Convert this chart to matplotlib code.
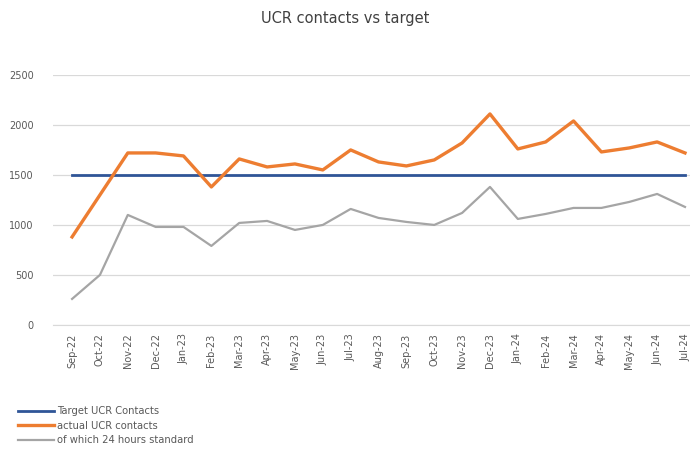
import matplotlib.pyplot as plt
import numpy as np

plt.rcParams['font.family'] = ['DejaVu Sans']

months = ["Sep-22", "Oct-22", "Nov-22", "Dec-22", "Jan-23", "Feb-23", "Mar-23",
          "Apr-23", "May-23", "Jun-23", "Jul-23", "Aug-23", "Sep-23", "Oct-23",
          "Nov-23", "Dec-23", "Jan-24", "Feb-24", "Mar-24", "Apr-24", "May-24",
          "Jun-24", "Jul-24"]
target = [1500] * len(months)
actual = [880, 1300, 1720, 1720, 1690, 1380, 1660, 1580, 1610, 1550, 1750,
          1630, 1590, 1650, 1820, 2110, 1760, 1830, 2040, 1730, 1770, 1830, 1720]
within_24h = [260, 500, 1100, 980, 980, 790, 1020, 1040, 950, 1000, 1160,
              1070, 1030, 1000, 1120, 1380, 1060, 1110, 1170, 1170, 1230, 1310, 1180]
y_ticks = [0, 500, 1000, 1500, 2000, 2500]

fig = plt.figure(figsize=(6.9, 4.57), dpi=100)
ax = fig.add_axes([0.077, 0.289, 0.923, 0.547])

x = np.arange(len(months))
l1, = ax.plot(x, target, color="#2F5597", lw=2.0, label="Target UCR Contacts", zorder=3)
l2, = ax.plot(x, actual, color="#ED7D31", lw=2.4, label="actual UCR contacts", zorder=4)
l3, = ax.plot(x, within_24h, color="#A5A5A5", lw=1.6, label="of which 24 hours standard", zorder=3)

ax.set_xlim(-0.68, 22.18)
ax.set_ylim(0, 2500)
ax.set_yticks(y_ticks)
ax.set_yticklabels([str(v) for v in y_ticks], fontsize=7, color="#595959")
ax.set_xticks(x)
ax.set_xticklabels(months, rotation=90, fontsize=7, color="#595959")
ax.tick_params(axis="x", length=0, pad=6)
ax.tick_params(axis="y", length=0, pad=14)
ax.grid(axis="y", color="#D9D9D9", lw=0.9)
ax.set_axisbelow(True)
for side in ["top", "right", "left"]:
    ax.spines[side].set_visible(False)
ax.spines["bottom"].set_color("#D9D9D9")

fig.text(0.5, 0.96, "UCR contacts vs target", ha="center", va="center",
         fontsize=10.5, color="#404040")

fig.legend(handles=[l1, l2, l3], loc="upper left", bbox_to_anchor=(0.02, 0.12),
           frameon=False, fontsize=7.2, handlelength=3.6, handletextpad=0.3,
           labelspacing=0.45, labelcolor="#595959", borderaxespad=0)

fig.savefig("out.png", dpi=100)
